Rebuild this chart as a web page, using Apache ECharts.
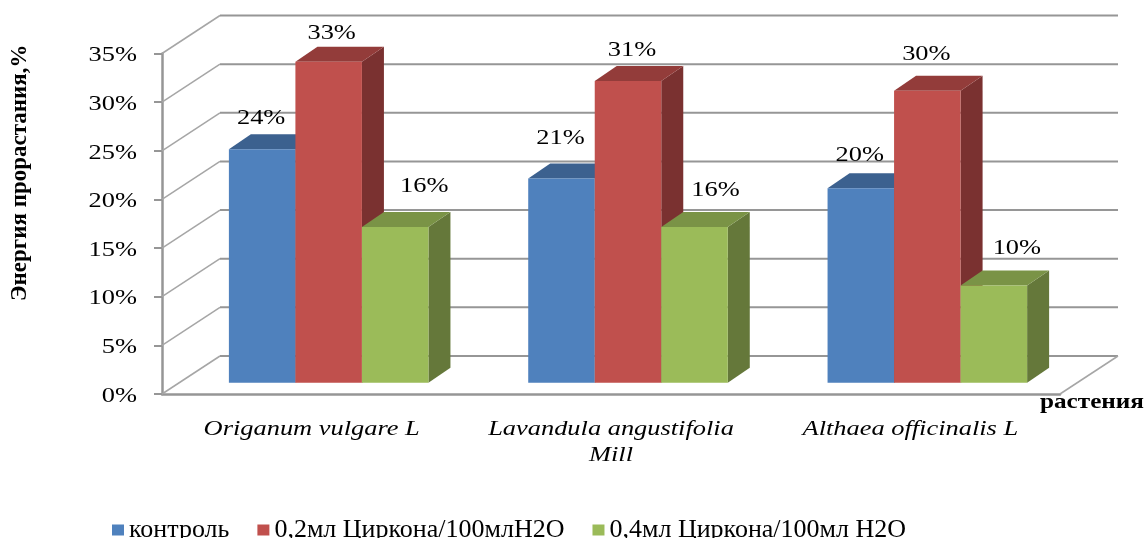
<!DOCTYPE html>
<html>
<head>
<meta charset="utf-8">
<style>html,body{margin:0;padding:0;background:#fff}#chart{width:1146px;height:538px}</style>
<script src="https://cdn.jsdelivr.net/npm/echarts@6/dist/echarts.min.js"></script>
</head>
<body>
<div id="chart"></div>
<script>
// Germination energy of three medicinal plants under Zircon treatments
const categories = ['Origanum vulgare L', 'Lavandula angustifolia\nMill', 'Althaea officinalis L'];
const seriesNames = ['контроль', '0,2мл Циркона/100млН2О', '0,4мл Циркона/100мл Н2О'];
const control = [24, 21, 20];
const zircon02 = [33, 31, 30];
const zircon04 = [16, 16, 10];
const yTicks = [0, 5, 10, 15, 20, 25, 30, 35];
const yAxisTitle = 'Энергия прорастания,%';
const xAxisTitle = 'растения';

// Oblique projection of the chart box
const DEPTH = { dx: 58, dy: -38 };
const BAR_PLANE = { dx: 17, dy: -11.3 };
const BAR_DEPTH = { dx: 22, dy: -15 };
const BAR_SHARE = 1 / 4.5;
const STRETCH = 1.2;
const SERIF = '"Liberation Serif", "Times New Roman", serif';
const GRID_COLOR = '#969696';
const SIDE_COLOR = '#a6a6a6';

const faces = [
  { front: '#4f81bd', top: '#3c618f', side: '#345478' },
  { front: '#c0504d', top: '#933c3a', side: '#7a3130' },
  { front: '#9bbb59', top: '#7a9346', side: '#65783a' }
];
// Hand placement of value labels relative to the top of each bar's front face
const labelNudge = [
  [[-1, -31], [-1, -40], [-1, -33]],
  [[3, -28], [4, -31], [-1, -37]],
  [[29, -41], [21, -37], [23, -37]]
];

function stretchedText(text, x, y, font, align, verticalAlign, extra) {
  return Object.assign({
    type: 'text', x, y, scaleX: STRETCH, silent: true,
    style: { text, font, fill: '#000', textAlign: align, textVerticalAlign: verticalAlign, lineHeight: 26 }
  }, extra || {});
}

function poly(points, fill) {
  return { type: 'polygon', shape: { points }, style: { fill, stroke: null } };
}

function renderWall(params, api) {
  const v = api.value(0);
  const [x, y] = api.coord([0, v]);
  const left = params.coordSys.x;
  const right = left + params.coordSys.width;
  const line = (x1, y1, x2, y2, stroke, lineWidth) => ({
    type: 'line', shape: { x1, y1, x2, y2 }, style: { stroke, lineWidth }
  });
  const children = [
    line(left, y, left + DEPTH.dx, y + DEPTH.dy, SIDE_COLOR, 1.5),
    line(left + DEPTH.dx, y + DEPTH.dy, right + DEPTH.dx, y + DEPTH.dy, GRID_COLOR, 2)
  ];
  if (v === 0) {
    children.push(line(right, y, right + DEPTH.dx, y + DEPTH.dy, SIDE_COLOR, 1.5));
  }
  return { type: 'group', children };
}

function renderBars(index) {
  return function (params, api) {
    const cat = api.value(0);
    const val = api.value(1);
    const band = api.size([1, 0])[0];
    const width = band * BAR_SHARE;
    const c = api.coord([cat, val]);
    const base = api.coord([cat, 0]);
    const x0 = c[0] + (index - 1.5) * width + BAR_PLANE.dx;
    const x1 = x0 + width;
    const yTop = c[1] + BAR_PLANE.dy;
    const yBase = base[1] + BAR_PLANE.dy;
    const { dx, dy } = BAR_DEPTH;
    const f = faces[index];
    const nudge = labelNudge[index][cat];
    return {
      type: 'group',
      children: [
        poly([[x1, yTop], [x1 + dx, yTop + dy], [x1 + dx, yBase + dy], [x1, yBase]], f.side),
        poly([[x0, yTop], [x0 + dx, yTop + dy], [x1 + dx, yTop + dy], [x1, yTop]], f.top),
        poly([[x0, yTop], [x1, yTop], [x1, yBase], [x0, yBase]], f.front),
        stretchedText(val + '%', (x0 + x1) / 2 + nudge[0], yTop + nudge[1],
          '22px ' + SERIF, 'center', 'middle', { z2: 50 })
      ]
    };
  };
}

function renderTickLabel(params, api) {
  const v = api.value(0);
  const [x, y] = api.coord([0, v]);
  return stretchedText(v + '%', params.coordSys.x - 25, y + 2, '22px ' + SERIF, 'right', 'middle');
}

function renderCategoryLabel(params, api) {
  const cat = api.value(0);
  const [x, y] = api.coord([cat, 0]);
  return stretchedText(categories[cat], x, y + 22, 'italic 22px ' + SERIF, 'center', 'top');
}

function renderAxisTitle(params, api) {
  const [x, y] = api.coord([categories.length - 0.5, 0]);
  return stretchedText(xAxisTitle, 1144, y + 9, 'bold 21px ' + SERIF, 'right', 'middle');
}

const barData = [control, zircon02, zircon04];

const option = {
  animation: false,
  backgroundColor: '#fff',
  grid: { left: 162, top: 53.5, width: 898, height: 340.5, containLabel: false, outerBoundsMode: 'none' },
  legend: {
    left: 107, top: 512, itemWidth: 12, itemHeight: 11, itemGap: 28, icon: 'rect',
    data: seriesNames, selectedMode: false,
    textStyle: { fontFamily: SERIF, fontSize: 26, color: '#000' }
  },
  xAxis: {
    type: 'category', data: categories,
    axisLine: { lineStyle: { color: GRID_COLOR, width: 2.5 } },
    axisTick: { show: false }, axisLabel: { show: false }, splitLine: { show: false }
  },
  yAxis: {
    type: 'value', min: 0, max: 35, interval: 5,
    name: yAxisTitle, nameLocation: 'middle', nameRotate: 90, nameGap: 130,
    nameTextStyle: { fontFamily: SERIF, fontWeight: 'bold', fontSize: 23, color: '#000', padding: [0, 0, 0, 102] },
    axisLine: { show: true, lineStyle: { color: GRID_COLOR, width: 2.5 } },
    axisTick: { show: true, length: 8, lineStyle: { color: GRID_COLOR, width: 2 } },
    axisLabel: { show: false }, splitLine: { show: false }
  },
  series: [
    { type: 'custom', name: 'wall', silent: true, z: 1, renderItem: renderWall,
      data: yTicks.map(v => [v]), encode: { y: 0 } },
    ...seriesNames.map((name, i) => ({
      type: 'custom', name, z: 3 + i, clip: false, renderItem: renderBars(i),
      itemStyle: { color: faces[i].front },
      data: barData[i].map((v, c) => [c, v]), encode: { x: 0, y: 1 }
    })),
    { type: 'custom', name: 'tick labels', silent: true, z: 8, renderItem: renderTickLabel,
      data: yTicks.map(v => [v]), encode: { y: 0 } },
    { type: 'custom', name: 'category labels', silent: true, z: 8, renderItem: renderCategoryLabel,
      data: categories.map((c, i) => [i]), encode: { x: 0 } },
    { type: 'custom', name: 'x title', silent: true, z: 8, renderItem: renderAxisTitle,
      data: [[0]], encode: { x: 0 } }
  ]
};

echarts.init(document.getElementById('chart')).setOption(option);
</script>
</body>
</html>
